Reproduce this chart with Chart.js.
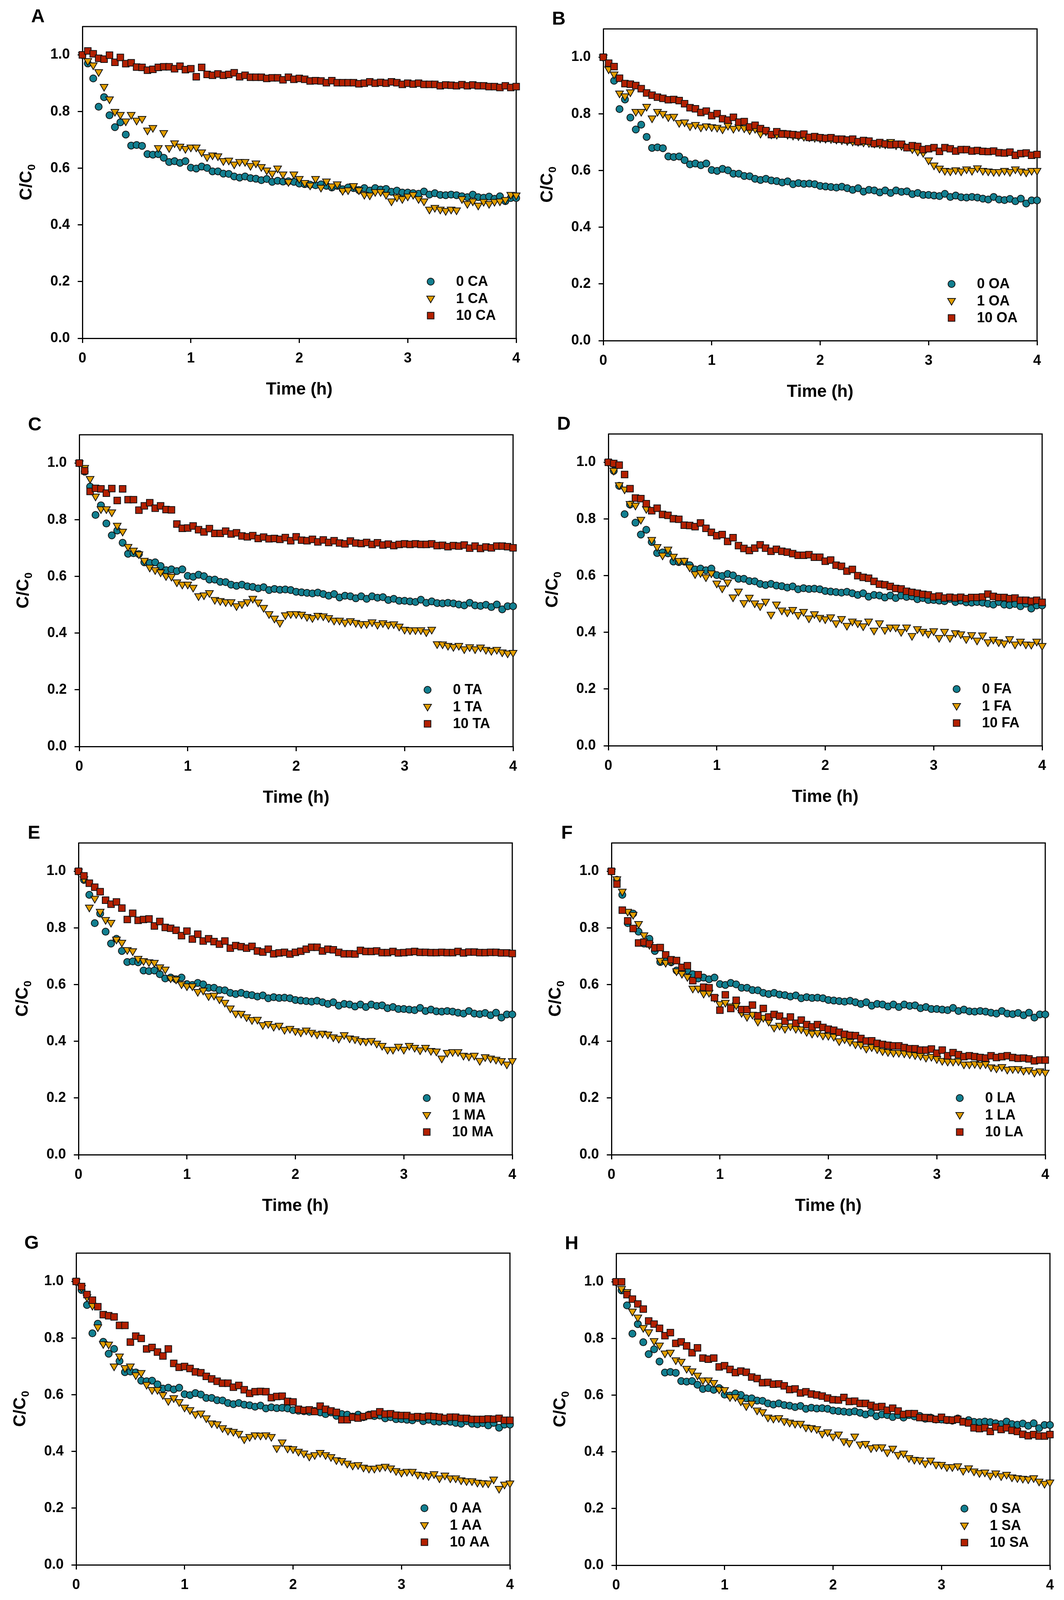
<!DOCTYPE html>
<html>
<head>
<meta charset="utf-8">
<title>C/C0 vs time, eight acids</title>
<script src="https://cdn.jsdelivr.net/npm/chart.js@4.4.1/dist/chart.umd.min.js"></script>
<style>
  html, body { margin: 0; padding: 0; background: #fff; }
  #page { position: relative; width: 2725px; height: 4184px; overflow: hidden; background: #fff; }
  #page canvas { position: absolute; }
</style>
</head>
<body>
<div id="page"></div>
<script>
// sampling times (h)
const timeH = [0, 0.05, 0.1, 0.15, 0.2, 0.25, 0.3, 0.35, 0.4, 0.45,
  0.5, 0.55, 0.6, 0.65, 0.7, 0.75, 0.8, 0.85, 0.9, 0.95,
  1, 1.05, 1.1, 1.15, 1.2, 1.25, 1.3, 1.35, 1.4, 1.45,
  1.5, 1.55, 1.6, 1.65, 1.7, 1.75, 1.8, 1.85, 1.9, 1.95,
  2, 2.05, 2.1, 2.15, 2.2, 2.25, 2.3, 2.35, 2.4, 2.45,
  2.5, 2.55, 2.6, 2.65, 2.7, 2.75, 2.8, 2.85, 2.9, 2.95,
  3, 3.05, 3.1, 3.15, 3.2, 3.25, 3.3, 3.35, 3.4, 3.45,
  3.5, 3.55, 3.6, 3.65, 3.7, 3.75, 3.8, 3.85, 3.9, 3.95, 4];

// control (0 acid), same in every panel
const zeroAcid = [1.000, 0.970, 0.917, 0.817, 0.851, 0.787, 0.745, 0.762, 0.719, 0.680,
  0.682, 0.679, 0.650, 0.648, 0.650, 0.637, 0.622, 0.625, 0.619, 0.625,
  0.602, 0.599, 0.606, 0.601, 0.589, 0.589, 0.581, 0.580, 0.571, 0.567,
  0.571, 0.565, 0.563, 0.558, 0.562, 0.552, 0.556, 0.553, 0.554, 0.552,
  0.546, 0.544, 0.542, 0.540, 0.543, 0.538, 0.532, 0.538, 0.526, 0.532,
  0.530, 0.523, 0.530, 0.521, 0.530, 0.525, 0.527, 0.517, 0.521, 0.514,
  0.514, 0.512, 0.510, 0.518, 0.507, 0.512, 0.506, 0.505, 0.507, 0.505,
  0.501, 0.498, 0.507, 0.498, 0.496, 0.500, 0.492, 0.501, 0.484, 0.495, 0.495];

const oneCA = [1.000, 0.979, 0.964, 0.940, 0.888, 0.844, 0.800, 0.789, 0.766, 0.789,
  0.769, 0.775, 0.734, 0.743, 0.672, 0.725, 0.672, 0.689, 0.677, 0.669,
  0.674, 0.674, 0.657, 0.640, 0.646, 0.643, 0.626, 0.628, 0.614, 0.623,
  0.623, 0.609, 0.618, 0.605, 0.593, 0.582, 0.600, 0.579, 0.552, 0.579,
  0.563, 0.549, 0.540, 0.563, 0.532, 0.554, 0.537, 0.544, 0.521, 0.523,
  0.538, 0.523, 0.507, 0.505, 0.517, 0.517, 0.507, 0.484, 0.498, 0.492,
  0.501, 0.507, 0.492, 0.484, 0.455, 0.461, 0.455, 0.450, 0.455, 0.452,
  0.492, 0.475, 0.484, 0.469, 0.482, 0.475, 0.482, 0.484, 0.489, 0.507, 0.505];
const tenCA = [1.000, 1.014, 1.004, 0.988, 0.985, 0.999, 0.974, 0.991, 0.969, 0.972,
  0.957, 0.956, 0.946, 0.949, 0.956, 0.958, 0.958, 0.951, 0.960, 0.948,
  0.951, 0.923, 0.956, 0.931, 0.928, 0.933, 0.928, 0.931, 0.937, 0.923,
  0.928, 0.921, 0.921, 0.921, 0.917, 0.919, 0.919, 0.912, 0.921, 0.914,
  0.917, 0.914, 0.908, 0.909, 0.908, 0.902, 0.909, 0.902, 0.902, 0.902,
  0.902, 0.898, 0.900, 0.905, 0.900, 0.903, 0.900, 0.905, 0.902, 0.896,
  0.900, 0.897, 0.900, 0.896, 0.896, 0.896, 0.891, 0.894, 0.893, 0.891,
  0.895, 0.891, 0.894, 0.891, 0.891, 0.888, 0.888, 0.885, 0.891, 0.885, 0.888];

const oneOA = [1.000, 0.958, 0.940, 0.873, 0.863, 0.877, 0.808, 0.808, 0.826, 0.785,
  0.808, 0.801, 0.789, 0.791, 0.769, 0.771, 0.757, 0.762, 0.753, 0.757,
  0.754, 0.752, 0.746, 0.759, 0.748, 0.754, 0.750, 0.743, 0.748, 0.731,
  0.739, 0.728, 0.727, 0.734, 0.727, 0.724, 0.722, 0.720, 0.718, 0.716,
  0.714, 0.713, 0.712, 0.710, 0.708, 0.705, 0.703, 0.702, 0.700, 0.698,
  0.696, 0.694, 0.693, 0.702, 0.690, 0.688, 0.685, 0.676, 0.668, 0.663,
  0.637, 0.619, 0.608, 0.600, 0.598, 0.602, 0.598, 0.605, 0.600, 0.609,
  0.600, 0.598, 0.596, 0.596, 0.600, 0.596, 0.605, 0.598, 0.594, 0.600, 0.600];
const tenOA = [1.000, 0.979, 0.967, 0.926, 0.907, 0.905, 0.900, 0.889, 0.874, 0.866,
  0.859, 0.855, 0.850, 0.851, 0.847, 0.836, 0.822, 0.818, 0.805, 0.810,
  0.794, 0.801, 0.783, 0.778, 0.788, 0.771, 0.773, 0.754, 0.760, 0.748,
  0.741, 0.727, 0.737, 0.729, 0.729, 0.727, 0.725, 0.729, 0.717, 0.720,
  0.716, 0.714, 0.716, 0.711, 0.711, 0.708, 0.711, 0.702, 0.706, 0.704,
  0.695, 0.699, 0.694, 0.691, 0.693, 0.693, 0.681, 0.688, 0.685, 0.674,
  0.677, 0.681, 0.668, 0.681, 0.677, 0.669, 0.674, 0.674, 0.669, 0.671,
  0.668, 0.667, 0.669, 0.663, 0.662, 0.665, 0.654, 0.660, 0.662, 0.654, 0.657];

const oneTA = [1.000, 0.984, 0.945, 0.883, 0.838, 0.838, 0.827, 0.780, 0.759, 0.705,
  0.692, 0.679, 0.656, 0.632, 0.623, 0.615, 0.602, 0.600, 0.580, 0.572,
  0.572, 0.561, 0.531, 0.534, 0.542, 0.518, 0.514, 0.510, 0.510, 0.496,
  0.503, 0.510, 0.522, 0.509, 0.490, 0.468, 0.452, 0.437, 0.464, 0.468,
  0.468, 0.466, 0.458, 0.454, 0.462, 0.460, 0.454, 0.445, 0.445, 0.438,
  0.443, 0.437, 0.433, 0.433, 0.439, 0.430, 0.436, 0.430, 0.432, 0.424,
  0.413, 0.411, 0.411, 0.411, 0.404, 0.413, 0.362, 0.361, 0.356, 0.352,
  0.356, 0.344, 0.351, 0.344, 0.350, 0.342, 0.338, 0.342, 0.333, 0.329, 0.331];
const tenTA = [1.000, 0.973, 0.900, 0.911, 0.909, 0.894, 0.910, 0.868, 0.909, 0.871,
  0.871, 0.834, 0.849, 0.860, 0.841, 0.849, 0.836, 0.835, 0.785, 0.770,
  0.771, 0.778, 0.765, 0.757, 0.769, 0.752, 0.752, 0.760, 0.750, 0.754,
  0.743, 0.740, 0.744, 0.734, 0.739, 0.733, 0.734, 0.731, 0.737, 0.726,
  0.740, 0.728, 0.726, 0.731, 0.722, 0.729, 0.720, 0.726, 0.718, 0.715,
  0.725, 0.718, 0.716, 0.720, 0.713, 0.719, 0.711, 0.714, 0.709, 0.713,
  0.715, 0.713, 0.715, 0.713, 0.713, 0.715, 0.709, 0.710, 0.705, 0.709,
  0.707, 0.711, 0.700, 0.707, 0.699, 0.704, 0.701, 0.707, 0.707, 0.705, 0.701];

const oneFA = [1.000, 0.971, 0.920, 0.905, 0.854, 0.848, 0.798, 0.836, 0.727, 0.702,
  0.672, 0.693, 0.668, 0.653, 0.653, 0.630, 0.606, 0.610, 0.595, 0.609,
  0.573, 0.556, 0.577, 0.524, 0.545, 0.504, 0.523, 0.503, 0.493, 0.509,
  0.463, 0.499, 0.478, 0.471, 0.480, 0.462, 0.473, 0.450, 0.465, 0.452,
  0.447, 0.454, 0.433, 0.448, 0.424, 0.439, 0.433, 0.422, 0.439, 0.407,
  0.433, 0.409, 0.418, 0.418, 0.402, 0.418, 0.388, 0.412, 0.403, 0.396,
  0.405, 0.381, 0.403, 0.381, 0.398, 0.394, 0.377, 0.391, 0.372, 0.390,
  0.366, 0.375, 0.366, 0.362, 0.377, 0.358, 0.368, 0.358, 0.357, 0.368, 0.353];
const tenFA = [1.000, 0.996, 0.990, 0.957, 0.907, 0.874, 0.872, 0.854, 0.829, 0.838,
  0.816, 0.813, 0.801, 0.799, 0.778, 0.777, 0.773, 0.786, 0.767, 0.753,
  0.741, 0.745, 0.721, 0.734, 0.706, 0.696, 0.689, 0.697, 0.709, 0.697,
  0.686, 0.693, 0.686, 0.683, 0.678, 0.672, 0.672, 0.674, 0.665, 0.665,
  0.651, 0.655, 0.637, 0.633, 0.616, 0.622, 0.600, 0.594, 0.591, 0.580,
  0.570, 0.568, 0.562, 0.555, 0.553, 0.545, 0.541, 0.538, 0.534, 0.532,
  0.525, 0.528, 0.521, 0.524, 0.521, 0.524, 0.519, 0.523, 0.523, 0.525,
  0.535, 0.527, 0.523, 0.523, 0.519, 0.521, 0.513, 0.513, 0.510, 0.513, 0.506];

const oneMA = [1.000, 0.973, 0.873, 0.904, 0.858, 0.829, 0.819, 0.760, 0.749, 0.723,
  0.719, 0.692, 0.684, 0.680, 0.678, 0.662, 0.654, 0.623, 0.619, 0.602,
  0.595, 0.595, 0.575, 0.580, 0.560, 0.562, 0.549, 0.537, 0.517, 0.499,
  0.498, 0.486, 0.476, 0.477, 0.458, 0.462, 0.452, 0.456, 0.441, 0.445,
  0.437, 0.432, 0.439, 0.431, 0.425, 0.428, 0.425, 0.415, 0.410, 0.423,
  0.411, 0.408, 0.402, 0.400, 0.402, 0.393, 0.385, 0.371, 0.371, 0.382,
  0.371, 0.385, 0.378, 0.369, 0.378, 0.367, 0.365, 0.340, 0.360, 0.363,
  0.363, 0.350, 0.347, 0.350, 0.332, 0.345, 0.340, 0.336, 0.331, 0.319, 0.331];
const tenMA = [1.000, 0.984, 0.958, 0.944, 0.928, 0.898, 0.884, 0.892, 0.870, 0.830,
  0.852, 0.827, 0.830, 0.832, 0.807, 0.823, 0.802, 0.799, 0.792, 0.773,
  0.789, 0.761, 0.778, 0.754, 0.762, 0.752, 0.743, 0.754, 0.729, 0.738,
  0.734, 0.729, 0.735, 0.719, 0.715, 0.725, 0.709, 0.712, 0.714, 0.708,
  0.714, 0.718, 0.725, 0.732, 0.732, 0.719, 0.725, 0.723, 0.714, 0.709,
  0.709, 0.708, 0.721, 0.717, 0.717, 0.719, 0.713, 0.713, 0.717, 0.712,
  0.713, 0.715, 0.717, 0.714, 0.714, 0.713, 0.713, 0.714, 0.713, 0.713,
  0.717, 0.712, 0.715, 0.715, 0.713, 0.713, 0.714, 0.714, 0.712, 0.712, 0.710];

const oneLA = [1.000, 0.973, 0.929, 0.858, 0.847, 0.815, 0.775, 0.741, 0.733, 0.685,
  0.678, 0.683, 0.648, 0.639, 0.628, 0.587, 0.587, 0.569, 0.572, 0.554,
  0.532, 0.537, 0.524, 0.528, 0.501, 0.487, 0.495, 0.470, 0.484, 0.470,
  0.449, 0.456, 0.445, 0.454, 0.445, 0.443, 0.434, 0.428, 0.430, 0.421,
  0.420, 0.417, 0.401, 0.408, 0.399, 0.390, 0.388, 0.375, 0.380, 0.373,
  0.366, 0.363, 0.360, 0.360, 0.358, 0.355, 0.352, 0.349, 0.343, 0.346,
  0.338, 0.332, 0.329, 0.329, 0.330, 0.319, 0.319, 0.321, 0.318, 0.320,
  0.309, 0.305, 0.310, 0.301, 0.303, 0.303, 0.297, 0.299, 0.290, 0.295, 0.290];
const tenLA = [1.000, 0.955, 0.863, 0.825, 0.798, 0.747, 0.750, 0.744, 0.730, 0.731,
  0.705, 0.688, 0.685, 0.661, 0.667, 0.614, 0.635, 0.591, 0.589, 0.554,
  0.510, 0.564, 0.516, 0.545, 0.512, 0.512, 0.528, 0.490, 0.516, 0.486,
  0.495, 0.489, 0.471, 0.486, 0.464, 0.475, 0.459, 0.451, 0.459, 0.449,
  0.443, 0.439, 0.432, 0.425, 0.421, 0.420, 0.410, 0.401, 0.402, 0.393,
  0.389, 0.386, 0.384, 0.384, 0.378, 0.374, 0.374, 0.369, 0.369, 0.373,
  0.358, 0.369, 0.349, 0.360, 0.353, 0.346, 0.349, 0.346, 0.343, 0.341,
  0.349, 0.343, 0.346, 0.349, 0.343, 0.340, 0.341, 0.338, 0.331, 0.334, 0.334];

const oneAA = [1.000, 0.978, 0.945, 0.915, 0.839, 0.780, 0.778, 0.701, 0.736, 0.695,
  0.701, 0.670, 0.678, 0.636, 0.618, 0.618, 0.600, 0.579, 0.589, 0.575,
  0.556, 0.547, 0.532, 0.535, 0.518, 0.500, 0.497, 0.483, 0.474, 0.470,
  0.463, 0.444, 0.452, 0.458, 0.457, 0.458, 0.452, 0.412, 0.433, 0.411,
  0.409, 0.400, 0.394, 0.383, 0.388, 0.396, 0.388, 0.381, 0.370, 0.367,
  0.358, 0.351, 0.353, 0.344, 0.340, 0.340, 0.344, 0.347, 0.341, 0.332,
  0.326, 0.329, 0.329, 0.319, 0.317, 0.314, 0.321, 0.306, 0.316, 0.306,
  0.306, 0.299, 0.296, 0.296, 0.291, 0.289, 0.288, 0.302, 0.269, 0.284, 0.288];
const tenAA = [1.000, 0.982, 0.954, 0.934, 0.911, 0.883, 0.879, 0.875, 0.845, 0.845,
  0.786, 0.807, 0.799, 0.762, 0.767, 0.751, 0.737, 0.762, 0.711, 0.697,
  0.700, 0.693, 0.681, 0.678, 0.665, 0.656, 0.648, 0.641, 0.641, 0.627,
  0.633, 0.618, 0.605, 0.611, 0.612, 0.611, 0.590, 0.594, 0.595, 0.577,
  0.575, 0.549, 0.545, 0.547, 0.541, 0.560, 0.549, 0.543, 0.538, 0.512,
  0.512, 0.521, 0.518, 0.523, 0.527, 0.532, 0.540, 0.532, 0.533, 0.528,
  0.527, 0.527, 0.521, 0.523, 0.521, 0.525, 0.523, 0.521, 0.517, 0.521,
  0.521, 0.517, 0.517, 0.513, 0.513, 0.513, 0.515, 0.514, 0.517, 0.510, 0.510];

const oneSA = [1.000, 0.976, 0.965, 0.896, 0.875, 0.838, 0.823, 0.792, 0.776, 0.748,
  0.751, 0.724, 0.719, 0.694, 0.685, 0.670, 0.653, 0.653, 0.644, 0.621,
  0.619, 0.594, 0.594, 0.579, 0.562, 0.571, 0.547, 0.541, 0.522, 0.518,
  0.520, 0.509, 0.504, 0.500, 0.500, 0.487, 0.485, 0.481, 0.465, 0.470,
  0.455, 0.462, 0.438, 0.432, 0.455, 0.427, 0.429, 0.414, 0.417, 0.417,
  0.399, 0.412, 0.390, 0.395, 0.379, 0.373, 0.371, 0.360, 0.370, 0.356,
  0.355, 0.347, 0.347, 0.350, 0.334, 0.343, 0.332, 0.326, 0.328, 0.317,
  0.325, 0.315, 0.320, 0.311, 0.308, 0.306, 0.304, 0.308, 0.296, 0.288, 0.293];
const tenSA = [1.000, 1.000, 0.955, 0.939, 0.922, 0.904, 0.862, 0.851, 0.836, 0.810,
  0.821, 0.783, 0.788, 0.774, 0.750, 0.767, 0.731, 0.727, 0.731, 0.700,
  0.704, 0.691, 0.680, 0.685, 0.681, 0.664, 0.659, 0.644, 0.645, 0.639,
  0.640, 0.633, 0.620, 0.622, 0.608, 0.612, 0.604, 0.601, 0.597, 0.590,
  0.584, 0.583, 0.592, 0.578, 0.579, 0.571, 0.571, 0.564, 0.558, 0.560,
  0.547, 0.554, 0.544, 0.532, 0.535, 0.535, 0.521, 0.521, 0.518, 0.515,
  0.522, 0.513, 0.512, 0.515, 0.506, 0.502, 0.485, 0.482, 0.485, 0.472,
  0.488, 0.479, 0.485, 0.476, 0.472, 0.462, 0.457, 0.461, 0.456, 0.456, 0.461];

const panelLetters = ['A', 'B', 'C', 'D', 'E', 'F', 'G', 'H'];
const acids = ['CA', 'OA', 'TA', 'FA', 'MA', 'LA', 'AA', 'SA'];
const oneSeries = [oneCA, oneOA, oneTA, oneFA, oneMA, oneLA, oneAA, oneSA];
const tenSeries = [tenCA, tenOA, tenTA, tenFA, tenMA, tenLA, tenAA, tenSA];
const xTickValues = [0, 1, 2, 3, 4];
const yTickValues = [0, 0.2, 0.4, 0.6, 0.8, 1.0];

// page layout: top-left corner of each plot area
const plotCorners = [[211, 68], [1545, 74], [203, 1113], [1558, 1111],
                     [201, 2158], [1566, 2158], [195, 3208], [1578, 3209]];
const PLOT_W = 1111, PLOT_H = 798;
const PAD_L = 211, PAD_T = 68, PAD_R = 40, PAD_B = 170;

const TEAL = '#127f90', GOLD = '#e29e00', RED = '#b32000', EDGE = '#111';
const FONT = '"Liberation Sans", Arial, Helvetica, sans-serif';

Chart.defaults.font.family = FONT;
Chart.defaults.font.weight = 'bold';
Chart.defaults.color = '#000';

function legendMark(ctx, kind, x, y) {
    ctx.beginPath();
    if (kind === 'circle') {
        ctx.arc(x, y, 9, 0, Math.PI * 2);
    } else if (kind === 'tri') {
        ctx.moveTo(x - 10, y - 7);
        ctx.lineTo(x + 10, y - 7);
        ctx.lineTo(x, y + 10);
        ctx.closePath();
    } else {
        ctx.rect(x - 8.5, y - 8.5, 17, 17);
    }
    ctx.fill();
    ctx.stroke();
}

// frame, axis titles, panel letter and in-plot legend
const panelDecor = {
    id: 'panelDecor',
    beforeDatasetsDraw(chart) {
        const { ctx, chartArea: a } = chart;
        ctx.save();
        ctx.strokeStyle = '#000';
        ctx.lineWidth = 3;
        ctx.beginPath();
        ctx.moveTo(a.left, a.top);
        ctx.lineTo(a.right, a.top);
        ctx.lineTo(a.right, a.bottom);
        ctx.stroke();
        ctx.restore();
    },
    afterDraw(chart, args, opts) {
        const { ctx, chartArea: a } = chart;
        ctx.save();
        ctx.fillStyle = '#000';
        ctx.textBaseline = 'alphabetic';

        ctx.font = 'bold 48px ' + FONT;
        ctx.textAlign = 'center';
        ctx.fillText(opts.letter, a.left - 114, a.top - 11);

        ctx.font = 'bold 44px ' + FONT;
        ctx.fillText('Time (h)', (a.left + a.right) / 2, a.bottom + 144);

        // y title C/C0 with subscript
        ctx.save();
        ctx.translate(a.left - 130, (a.top + a.bottom) / 2);
        ctx.rotate(-Math.PI / 2);
        ctx.textAlign = 'left';
        ctx.font = 'bold 44px ' + FONT;
        const mainW = ctx.measureText('C/C').width;
        ctx.font = 'bold 28px ' + FONT;
        const subW = ctx.measureText('0').width;
        const x0 = -(mainW + subW) / 2;
        ctx.font = 'bold 44px ' + FONT;
        ctx.fillText('C/C', x0, 0);
        ctx.font = 'bold 28px ' + FONT;
        ctx.fillText('0', x0 + mainW + 1, 9);
        ctx.restore();

        // legend
        const rows = [['circle', TEAL, '0 '], ['tri', GOLD, '1 '], ['rect', RED, '10 ']];
        const offsets = [145, 101, 58];
        ctx.font = 'bold 36px ' + FONT;
        ctx.textAlign = 'left';
        ctx.textBaseline = 'middle';
        rows.forEach((r, i) => {
            const y = a.bottom - offsets[i];
            ctx.fillStyle = r[1];
            ctx.strokeStyle = EDGE;
            ctx.lineWidth = 2;
            legendMark(ctx, r[0], a.right - 219, y);
            ctx.fillStyle = '#000';
            ctx.fillText(r[2] + opts.acid, a.right - 154, y + 1);
        });
        ctx.restore();
    }
};

function toPoints(vals) {
    return timeH.map((t, i) => ({ x: t, y: vals[i] }));
}

function buildPanel(idx) {
    const page = document.getElementById('page');
    const canvas = document.createElement('canvas');
    const W = PAD_L + PLOT_W + PAD_R;
    const H = PAD_T + PLOT_H + PAD_B;
    canvas.width = W;
    canvas.height = H;
    canvas.style.width = W + 'px';
    canvas.style.height = H + 'px';
    canvas.style.left = (plotCorners[idx][0] - PAD_L) + 'px';
    canvas.style.top = (plotCorners[idx][1] - PAD_T) + 'px';
    page.appendChild(canvas);

    const acid = acids[idx];
    const axisGrid = {
        drawOnChartArea: false,
        drawTicks: true,
        tickLength: 12,
        color: '#000',
        lineWidth: 3
    };

    new Chart(canvas.getContext('2d'), {
        type: 'scatter',
        data: {
            datasets: [
                {
                    label: '10 ' + acid,
                    data: toPoints(tenSeries[idx]),
                    pointStyle: 'rect',
                    pointRadius: 12,
                    pointBackgroundColor: RED,
                    pointBorderColor: EDGE,
                    pointBorderWidth: 2,
                    order: 1,
                    clip: false
                },
                {
                    label: '1 ' + acid,
                    data: toPoints(oneSeries[idx]),
                    pointStyle: 'triangle',
                    pointRotation: 180,
                    pointRadius: 11.5,
                    pointBackgroundColor: GOLD,
                    pointBorderColor: EDGE,
                    pointBorderWidth: 2,
                    order: 2,
                    clip: false
                },
                {
                    label: '0 ' + acid,
                    data: toPoints(zeroAcid),
                    pointStyle: 'circle',
                    pointRadius: 9,
                    pointBackgroundColor: TEAL,
                    pointBorderColor: EDGE,
                    pointBorderWidth: 2,
                    order: 3,
                    clip: false
                }
            ]
        },
        options: {
            responsive: false,
            devicePixelRatio: 1,
            animation: false,
            events: [],
            layout: { padding: { top: PAD_T, right: PAD_R, left: 0, bottom: 0 } },
            plugins: {
                legend: { display: false },
                tooltip: { enabled: false },
                panelDecor: { letter: panelLetters[idx], acid: acid }
            },
            scales: {
                x: {
                    type: 'linear',
                    min: 0,
                    max: 4,
                    afterBuildTicks(scale) { scale.ticks = xTickValues.map(v => ({ value: v })); },
                    afterFit(scale) { scale.height = PAD_B; },
                    ticks: {
                        font: { size: 36, weight: 'bold' },
                        color: '#000',
                        padding: 18,
                        maxRotation: 0,
                        callback: v => String(v)
                    },
                    grid: axisGrid,
                    border: { display: true, color: '#000', width: 3 }
                },
                y: {
                    type: 'linear',
                    min: 0,
                    max: 1.1,
                    afterBuildTicks(scale) { scale.ticks = yTickValues.map(v => ({ value: v })); },
                    afterFit(scale) { scale.width = PAD_L; },
                    ticks: {
                        font: { size: 36, weight: 'bold' },
                        color: '#000',
                        padding: 20,
                        callback: v => Number(v).toFixed(1)
                    },
                    grid: axisGrid,
                    border: { display: true, color: '#000', width: 3 }
                }
            }
        },
        plugins: [panelDecor]
    });
}

document.addEventListener('DOMContentLoaded', () => {
    for (let i = 0; i < panelLetters.length; i++) buildPanel(i);
});
</script>
</body>
</html>
